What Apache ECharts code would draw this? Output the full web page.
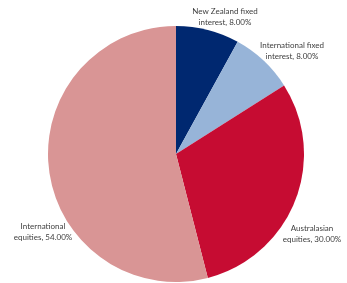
<!DOCTYPE html>
<html>
<head>
<meta charset="utf-8">
<script src="https://cdn.jsdelivr.net/npm/echarts@6/dist/echarts.min.js"></script>
<style>
  html, body { margin: 0; padding: 0; background: #fff; }
  #chart { width: 347px; height: 283px; }
</style>
</head>
<body>
<div id="chart"></div>
<script>
const categories = ['New Zealand fixed interest', 'International fixed interest', 'Australasian equities', 'International equities'];
const labelLines = [['New Zealand fixed', 'interest'], ['International fixed', 'interest'], ['Australasian', 'equities'], ['International', 'equities']];
const values = [8, 8, 30, 54];
const colors = ['#002870', '#97b4d8', '#c60c32', '#d99595'];

// where each label sits (Excel-style placement, not on the mid angle)
const labelPos = [[225, 17], [292, 51], [312, 234], [43, 232]];

const chart = echarts.init(document.getElementById('chart'));

chart.setOption({
  backgroundColor: '#ffffff',
  animation: false,
  series: [{
    type: 'pie',
    center: [176, 154],
    radius: [0, 128],
    startAngle: 90,
    clockwise: true,
    avoidLabelOverlap: false,
    data: values.map((v, i) => ({
      name: categories[i],
      value: v,
      itemStyle: { color: colors[i] }
    })),
    label: {
      show: true,
      position: 'outside',
      overflow: 'none',
      alignTo: 'none',
      formatter: p => labelLines[p.dataIndex][0] + '\n' + labelLines[p.dataIndex][1] + ', ' + p.value.toFixed(2) + '%',
      fontFamily: 'Lato',
      fontSize: 8,
      lineHeight: 11,
      color: '#404040',
      align: 'center'
    },
    labelLine: { show: false },
    labelLayout: p => ({
      x: labelPos[p.dataIndex][0],
      y: labelPos[p.dataIndex][1],
      align: 'center',
      verticalAlign: 'middle',
      hideOverlap: false,
      moveOverlap: false
    }),
    emphasis: { disabled: true }
  }]
});
</script>
</body>
</html>
